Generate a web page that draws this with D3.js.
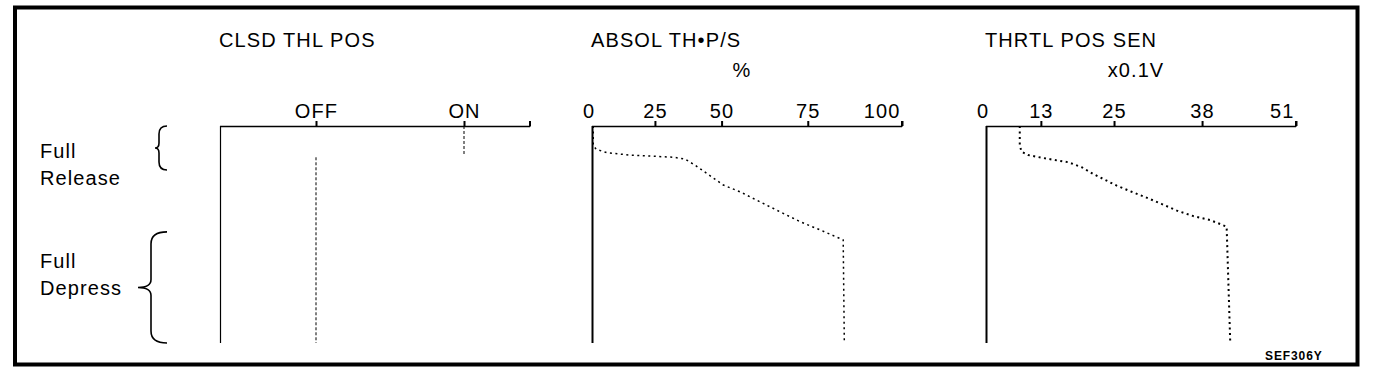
<!DOCTYPE html>
<html><head><meta charset="utf-8">
<script src="https://cdn.jsdelivr.net/npm/d3@7"></script>
<style>
body{margin:0;background:#fff}
svg{display:block}
text{font-family:"Liberation Sans",Arial,Helvetica,sans-serif;fill:#000}
</style>
</head><body>
<svg id="c" width="1392" height="380"></svg>
<script>
// ---------- data ----------
const panelTitles = ["CLSD THL POS", "ABSOL TH\u2022P/S", "THRTL POS SEN"];
const panelUnits = ["", "%", "x0.1V"];
const clsdCategories = ["OFF", "ON"];
const absolTicks = [0, 25, 50, 75, 100];
const thrtlTicks = [0, 13, 25, 38, 51];
// accelerator pedal travel: 0 = full release, 100 = full depress
const clsdState = ["ON", "OFF"];
const clsdFrom = [0, 13.5];
const clsdTo = [13.5, 100];
const absolPedal = [0, 8.8, 10.7, 12.3, 13.4, 14.4, 15.2, 18, 21.8, 27.2, 30.3, 34.9, 39.5, 44.1, 47.9, 52.5, 100];
const absolValue = [0.5, 0.5, 1.6, 5.9, 15.1, 31.9, 36.2, 40, 44.4, 50.5, 55.3, 61.1, 66.9, 72.8, 78.3, 84.4, 84.7];
const thrtlPedal = [0, 8.8, 11.8, 13.4, 14.6, 15.7, 16.7, 19, 22.1, 25.2, 27.5, 30.3, 33, 35.9, 39, 41.5, 43.3, 46.4, 100];
const thrtlValue = [8.0, 8.0, 8.4, 10.0, 13.1, 15.3, 17.5, 19.7, 21.6, 23.8, 25.4, 27.6, 29.8, 32.0, 34.3, 36.7, 39.1, 41.4, 41.9];
const rangeLabels = [["Full", "Release"], ["Full", "Depress"]];
const rangeFrom = [0, 48.8];
const rangeTo = [20.3, 100];
const figureCode = "SEF306Y";

// ---------- layout ----------
const svg = d3.select("#c");
svg.append("rect").attr("width", 1392).attr("height", 380).attr("fill", "#fff");
svg.append("rect").attr("x", 15).attr("y", 7.5).attr("width", 1342.5).attr("height", 357)
  .attr("fill", "none").attr("stroke", "#000").attr("stroke-width", 4);

const FS = 20, LS = 1.1;
const axisTop = 126, axisBottom = 343;
const panelLeft = [220, 592, 986];
const panelWidth = 310;
const y = d3.scaleLinear().domain([0, 100]).range([axisTop, axisBottom]);

// tick spacing of the printed scales (fraction of axis width)
const stretch2 = [0, 0.203, 0.418, 0.696, 1];
const stretch3 = [0, 0.177, 0.413, 0.697, 1];

const x1 = d3.scalePoint().domain(clsdCategories).range([panelLeft[0] + 96, panelLeft[0] + 244]);
const x2 = d3.scaleLinear().domain(absolTicks).range(stretch2.map(f => panelLeft[1] + f * panelWidth));
const x3 = d3.scaleLinear().domain(thrtlTicks).range(stretch3.map(f => panelLeft[2] + f * panelWidth));

function styleText(sel) {
  sel.attr("font-size", FS).attr("letter-spacing", LS).attr("font-family", '"Liberation Sans",Arial,sans-serif').attr("fill", "#000");
}

function drawPanel(i, scale, ticks, hideFirstTick) {
  const x0 = panelLeft[i];
  const g = svg.append("g");
  g.append("text").attr("x", x0 - 1).attr("y", 47).text(panelTitles[i]).call(styleText);
  if (panelUnits[i]) g.append("text").attr("x", x0 + 150).attr("y", 77).attr("text-anchor", "middle")
    .text(panelUnits[i]).call(styleText);
  const ax = g.append("g").attr("transform", `translate(0,${axisTop})`)
    .call(d3.axisTop(scale).tickValues(ticks).tickSize(5).tickSizeOuter(0).tickPadding(3));
  ax.select(".domain").remove();
  ax.selectAll(".tick line").attr("stroke-width", 2);
  ax.selectAll(".tick text").call(styleText);
  if (hideFirstTick) {
    const n = ticks.length;
    ax.selectAll(".tick").filter((d, k) => k === 0).select("line").remove();
    ax.selectAll(".tick").filter((d, k) => k === 0).select("text").attr("dx", -3.5);
    ax.selectAll(".tick").filter((d, k) => k === n - 1).select("text").attr("text-anchor", "end").attr("dx", -2);
  }
  g.append("line").attr("x1", x0).attr("x2", x0 + panelWidth).attr("y1", axisTop + 0.5).attr("y2", axisTop + 0.5)
    .attr("stroke", "#000").attr("stroke-width", 1.3);
  g.append("line").attr("x1", x0 + panelWidth).attr("x2", x0 + panelWidth).attr("y1", axisTop - 5).attr("y2", axisTop + 0.5)
    .attr("stroke", "#000").attr("stroke-width", 2);
  g.append("line").attr("x1", x0 + 0.5).attr("x2", x0 + 0.5).attr("y1", axisTop).attr("y2", axisBottom)
    .attr("stroke", "#000").attr("stroke-width", i === 0 ? 1.2 : 2);
  return g;
}

const g1 = drawPanel(0, x1, clsdCategories, false);
const g2 = drawPanel(1, x2, absolTicks, true);
const g3 = drawPanel(2, x3, thrtlTicks, true);

clsdState.forEach((s, k) => {
  g1.append("line").attr("x1", x1(s)).attr("x2", x1(s))
    .attr("y1", y(clsdFrom[k]) + (k === 1 ? 2 : 0)).attr("y2", y(clsdTo[k]))
    .attr("stroke", "#000").attr("stroke-width", 1).attr("stroke-dasharray", "3,2");
});

const absolData = absolPedal.map((p, k) => ({ p, v: absolValue[k] }));
const thrtlData = thrtlPedal.map((p, k) => ({ p, v: thrtlValue[k] }));

g2.append("path").datum(absolData)
  .attr("d", d3.line().x(d => x2(d.v)).y(d => y(d.p)))
  .attr("fill", "none").attr("stroke", "#000").attr("stroke-width", 1.5).attr("stroke-dasharray", "2,3.5");
g3.append("path").datum(thrtlData)
  .attr("d", d3.line().x(d => x3(d.v)).y(d => y(d.p)))
  .attr("fill", "none").attr("stroke", "#000").attr("stroke-width", 2).attr("stroke-dasharray", "2,3.5");

const braceGeom = [{ xr: 167, xs: 159, xt: 155, r: 8 }, { xr: 167, xs: 151, xt: 138, r: 12 }];
const labelOffsets = [[10, 37], [-19, 8]];
rangeLabels.forEach((lab, k) => {
  const b = braceGeom[k];
  const y0 = y(rangeFrom[k]), y1 = y(rangeTo[k]), ym = (y0 + y1) / 2;
  const r = b.r, r2 = k === 0 ? 5 : 8;
  const d = `M${b.xr},${y0} Q${b.xs},${y0} ${b.xs},${y0 + r} L${b.xs},${ym - r2} Q${b.xs},${ym} ${b.xt},${ym}` +
    ` Q${b.xs},${ym} ${b.xs},${ym + r2} L${b.xs},${y1 - r} Q${b.xs},${y1} ${b.xr},${y1}`;
  svg.append("path").attr("d", d).attr("fill", "none").attr("stroke", "#000").attr("stroke-width", 1.6);
  lab.forEach((t, j) => {
    svg.append("text").attr("x", 40).attr("y", ym + labelOffsets[k][j]).text(t).call(styleText);
  });
});

svg.append("text").attr("x", 1265).attr("y", 360).text(figureCode)
  .attr("font-size", 12).attr("font-weight", "bold").attr("letter-spacing", 0.9)
  .attr("font-family", '"Liberation Sans",Arial,sans-serif');
</script>
</body></html>
